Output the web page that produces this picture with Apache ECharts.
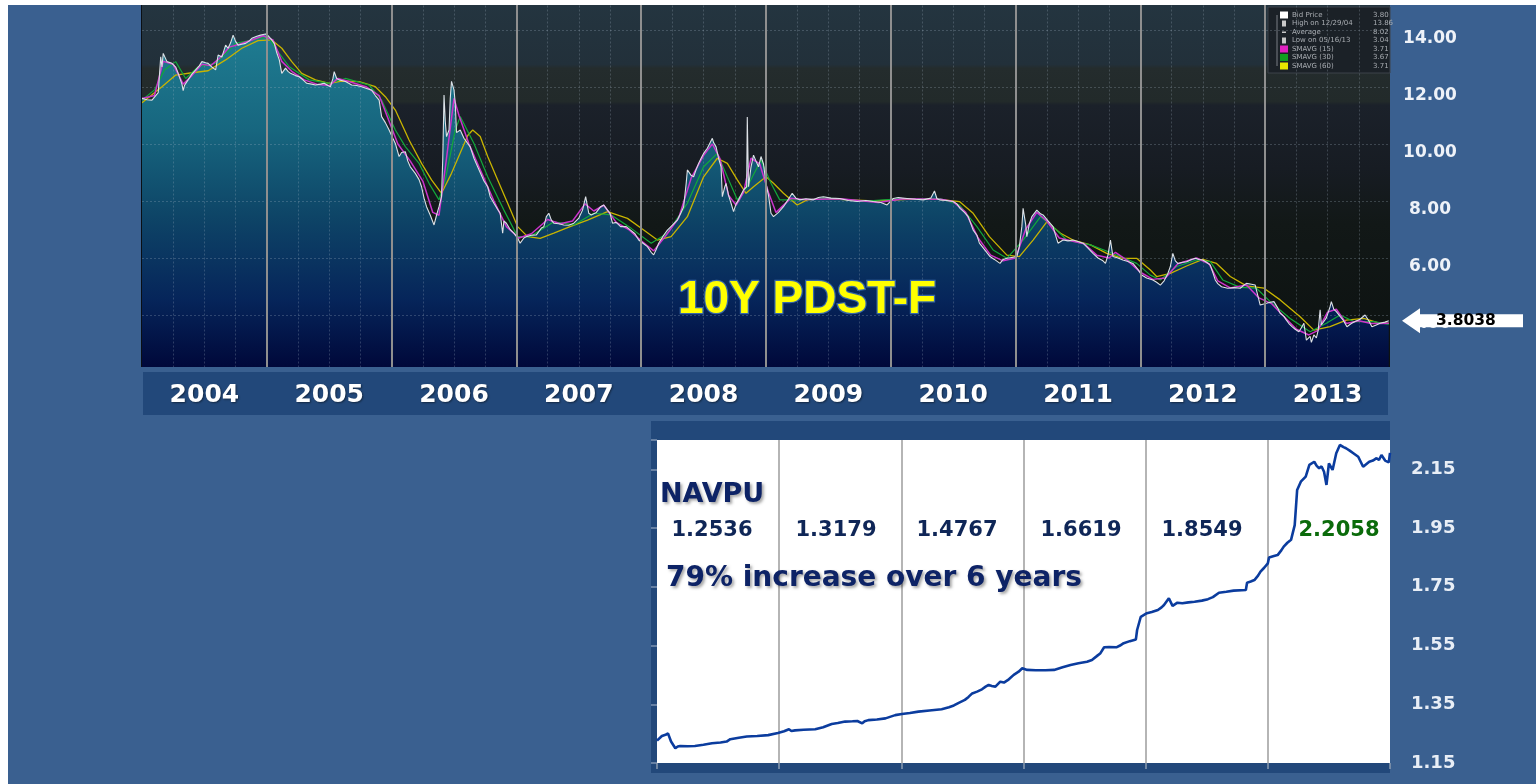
<!DOCTYPE html>
<html>
<head>
<meta charset="utf-8">
<script src="https://cdn.jsdelivr.net/npm/echarts@6/dist/echarts.min.js"></script>
<style>
html,body{margin:0;padding:0;background:#3a6090;}
#c{width:1536px;height:784px;}
</style>
</head>
<body>
<div id="c"></div>
<script>
// ---------- DATA ----------
const yearLabels = ['2004','2005','2006','2007','2008','2009','2010','2011','2012','2013'];

// 10Y PDST-F bid price, [decimal year, yield]
const bidPrice = [
[2004.00,11.60],[2004.04,11.55],[2004.08,11.54],[2004.11,11.70],[2004.13,11.80],[2004.15,13.06],[2004.16,12.70],[2004.17,13.18],[2004.20,12.89],[2004.24,12.83],[2004.27,12.70],[2004.29,12.48],[2004.32,12.10],[2004.33,11.87],[2004.34,12.05],[2004.36,12.19],[2004.40,12.45],[2004.43,12.60],[2004.46,12.75],[2004.48,12.89],[2004.51,12.85],[2004.53,12.83],[2004.56,12.70],[2004.59,12.60],[2004.61,13.12],[2004.64,13.05],[2004.67,13.47],[2004.69,13.36],[2004.71,13.55],[2004.73,13.82],[2004.75,13.60],[2004.77,13.47],[2004.80,13.50],[2004.83,13.53],[2004.86,13.62],[2004.88,13.71],[2004.92,13.78],[2004.95,13.82],[2004.99,13.86],[2005.01,13.80],[2005.04,13.65],[2005.06,13.53],[2005.08,13.20],[2005.10,12.95],[2005.12,12.48],[2005.15,12.66],[2005.17,12.55],[2005.19,12.48],[2005.23,12.40],[2005.26,12.36],[2005.29,12.25],[2005.32,12.13],[2005.36,12.10],[2005.39,12.07],[2005.43,12.10],[2005.46,12.13],[2005.49,12.05],[2005.51,12.01],[2005.53,12.30],[2005.54,12.54],[2005.56,12.30],[2005.58,12.25],[2005.63,12.19],[2005.66,12.12],[2005.68,12.07],[2005.72,12.05],[2005.76,12.01],[2005.80,11.95],[2005.84,11.89],[2005.87,11.70],[2005.90,11.54],[2005.92,10.96],[2005.95,10.75],[2005.98,10.49],[2006.01,10.20],[2006.03,10.02],[2006.06,9.56],[2006.08,9.70],[2006.11,9.73],[2006.13,9.40],[2006.15,9.20],[2006.19,8.97],[2006.22,8.75],[2006.24,8.50],[2006.26,8.10],[2006.28,7.80],[2006.31,7.50],[2006.34,7.16],[2006.36,7.50],[2006.38,7.80],[2006.40,8.15],[2006.41,9.50],[2006.42,11.72],[2006.43,10.80],[2006.44,10.26],[2006.46,10.49],[2006.47,11.60],[2006.48,12.20],[2006.50,11.90],[2006.51,11.43],[2006.52,10.40],[2006.55,10.49],[2006.58,10.20],[2006.63,9.90],[2006.66,9.50],[2006.68,9.30],[2006.71,9.00],[2006.74,8.70],[2006.77,8.50],[2006.79,8.15],[2006.82,7.92],[2006.85,7.70],[2006.87,7.57],[2006.89,6.87],[2006.90,7.30],[2006.92,7.22],[2006.95,7.00],[2006.98,6.87],[2007.01,6.70],[2007.03,6.52],[2007.06,6.70],[2007.08,6.75],[2007.12,6.80],[2007.16,6.81],[2007.20,7.05],[2007.22,7.10],[2007.24,7.45],[2007.26,7.57],[2007.28,7.33],[2007.30,7.22],[2007.34,7.20],[2007.38,7.16],[2007.42,7.15],[2007.46,7.22],[2007.50,7.40],[2007.53,7.68],[2007.555,8.15],[2007.58,7.57],[2007.60,7.51],[2007.64,7.60],[2007.675,7.80],[2007.70,7.86],[2007.73,7.68],[2007.75,7.57],[2007.77,7.22],[2007.80,7.25],[2007.835,7.10],[2007.88,7.10],[2007.915,6.98],[2007.95,6.85],[2007.98,6.63],[2008.02,6.50],[2008.05,6.40],[2008.08,6.20],[2008.10,6.11],[2008.12,6.30],[2008.14,6.52],[2008.18,6.80],[2008.21,6.98],[2008.25,7.15],[2008.29,7.33],[2008.32,7.60],[2008.34,7.80],[2008.36,8.60],[2008.37,9.09],[2008.40,8.90],[2008.42,8.85],[2008.44,9.10],[2008.46,9.32],[2008.48,9.50],[2008.50,9.67],[2008.53,9.85],[2008.54,9.90],[2008.57,10.20],[2008.58,10.05],[2008.60,9.90],[2008.62,9.50],[2008.64,9.20],[2008.65,8.15],[2008.67,8.50],[2008.68,8.62],[2008.70,8.20],[2008.72,7.92],[2008.74,7.63],[2008.76,7.90],[2008.78,8.04],[2008.82,8.39],[2008.845,8.50],[2008.85,10.95],[2008.86,8.50],[2008.88,9.20],[2008.90,9.61],[2008.92,9.40],[2008.94,9.20],[2008.96,9.56],[2008.98,9.30],[2009.00,8.62],[2009.02,8.20],[2009.04,7.57],[2009.06,7.45],[2009.10,7.60],[2009.14,7.80],[2009.17,8.00],[2009.21,8.27],[2009.24,8.10],[2009.27,8.04],[2009.32,8.08],[2009.38,8.04],[2009.42,8.12],[2009.46,8.15],[2009.52,8.10],[2009.59,8.09],[2009.66,8.02],[2009.73,7.98],[2009.80,8.02],[2009.86,7.98],[2009.92,7.95],[2009.97,7.86],[2010.02,8.09],[2010.06,8.12],[2010.13,8.09],[2010.20,8.06],[2010.26,8.04],[2010.32,8.10],[2010.35,8.35],[2010.37,8.08],[2010.39,8.04],[2010.45,8.02],[2010.50,7.98],[2010.53,7.90],[2010.555,7.74],[2010.59,7.60],[2010.62,7.45],[2010.66,6.98],[2010.69,6.80],[2010.71,6.52],[2010.75,6.30],[2010.795,6.05],[2010.83,5.95],[2010.875,5.81],[2010.90,5.95],[2010.93,5.99],[2010.97,6.02],[2011.01,6.05],[2011.03,6.40],[2011.05,7.10],[2011.06,7.74],[2011.08,7.20],[2011.09,6.75],[2011.11,7.20],[2011.13,7.45],[2011.17,7.68],[2011.20,7.55],[2011.22,7.51],[2011.26,7.30],[2011.30,7.10],[2011.32,6.80],[2011.34,6.52],[2011.38,6.63],[2011.42,6.60],[2011.46,6.63],[2011.50,6.58],[2011.54,6.52],[2011.58,6.35],[2011.62,6.16],[2011.66,6.00],[2011.70,5.90],[2011.72,5.81],[2011.74,6.10],[2011.76,6.63],[2011.78,6.05],[2011.82,6.00],[2011.86,5.93],[2011.90,5.88],[2011.94,5.81],[2011.98,5.60],[2012.01,5.40],[2012.05,5.30],[2012.10,5.23],[2012.13,5.15],[2012.16,5.05],[2012.19,5.20],[2012.22,5.46],[2012.24,5.70],[2012.26,6.16],[2012.28,5.90],[2012.30,5.81],[2012.34,5.85],[2012.37,5.87],[2012.41,5.95],[2012.44,5.99],[2012.47,5.95],[2012.50,5.93],[2012.53,5.85],[2012.56,5.75],[2012.58,5.50],[2012.60,5.23],[2012.62,5.10],[2012.65,4.99],[2012.70,4.94],[2012.75,4.96],[2012.80,4.94],[2012.83,5.05],[2012.85,5.11],[2012.89,5.08],[2012.92,5.05],[2012.94,4.70],[2012.96,4.35],[2013.01,4.41],[2013.04,4.45],[2013.07,4.47],[2013.10,4.25],[2013.12,4.06],[2013.15,3.95],[2013.17,3.82],[2013.19,3.70],[2013.215,3.59],[2013.24,3.50],[2013.27,3.41],[2013.29,3.55],[2013.31,3.71],[2013.33,3.12],[2013.36,3.25],[2013.37,3.04],[2013.39,3.30],[2013.41,3.20],[2013.425,3.47],[2013.44,4.18],[2013.45,3.65],[2013.465,3.59],[2013.49,3.90],[2013.52,4.29],[2013.53,4.47],[2013.55,4.20],[2013.57,4.12],[2013.60,3.95],[2013.625,3.82],[2013.655,3.59],[2013.69,3.70],[2013.72,3.77],[2013.76,3.85],[2013.80,4.00],[2013.83,3.80],[2013.855,3.59],[2013.89,3.65],[2013.92,3.71],[2013.96,3.75],[2013.99,3.80]
];

const smavg15 = [
[2004.00,11.60],[2004.10,11.70],[2004.17,12.90],[2004.25,12.80],[2004.33,12.10],[2004.40,12.40],[2004.48,12.80],[2004.55,12.75],[2004.62,13.00],[2004.70,13.40],[2004.78,13.50],[2004.88,13.65],[2004.97,13.80],[2005.05,13.65],[2005.12,12.90],[2005.20,12.55],[2005.30,12.25],[2005.40,12.10],[2005.50,12.05],[2005.57,12.30],[2005.65,12.20],[2005.80,12.00],[2005.90,11.70],[2005.98,10.80],[2006.05,10.00],[2006.15,9.40],[2006.25,8.70],[2006.33,7.60],[2006.38,7.50],[2006.44,9.50],[2006.50,11.60],[2006.54,11.00],[2006.62,10.00],[2006.72,9.00],[2006.82,8.00],[2006.92,7.10],[2007.02,6.70],[2007.12,6.85],[2007.25,7.35],[2007.35,7.20],[2007.45,7.30],[2007.55,7.90],[2007.62,7.65],[2007.70,7.85],[2007.80,7.25],[2007.90,7.00],[2008.00,6.60],[2008.10,6.25],[2008.20,6.80],[2008.30,7.40],[2008.40,8.80],[2008.50,9.60],[2008.57,10.00],[2008.63,9.50],[2008.70,8.20],[2008.76,7.85],[2008.82,8.30],[2008.88,9.50],[2008.95,9.30],[2009.02,8.30],[2009.08,7.60],[2009.20,8.10],[2009.30,8.05],[2009.60,8.08],[2009.90,7.95],[2010.10,8.08],[2010.40,8.06],[2010.50,7.98],[2010.60,7.60],[2010.70,6.70],[2010.80,6.10],[2010.90,5.90],[2011.00,6.00],[2011.08,7.00],[2011.17,7.60],[2011.25,7.30],[2011.35,6.70],[2011.45,6.60],[2011.55,6.50],[2011.65,6.10],[2011.75,6.00],[2011.80,6.20],[2011.90,5.90],[2012.00,5.50],[2012.10,5.25],[2012.20,5.30],[2012.30,5.80],[2012.45,6.00],[2012.55,5.80],[2012.62,5.20],[2012.72,4.95],[2012.85,5.05],[2012.95,4.60],[2013.05,4.40],[2013.15,3.95],[2013.25,3.50],[2013.35,3.30],[2013.42,3.45],[2013.50,4.10],[2013.57,4.20],[2013.65,3.70],[2013.75,3.80],[2013.85,3.70],[2013.92,3.70],[2013.99,3.71]
];

const smavg30 = [
[2004.00,11.54],[2004.10,11.90],[2004.18,12.60],[2004.27,12.89],[2004.35,12.30],[2004.45,12.71],[2004.59,12.83],[2004.75,13.53],[2004.88,13.65],[2005.01,13.77],[2005.10,13.18],[2005.18,12.71],[2005.34,12.25],[2005.50,12.13],[2005.63,12.30],[2005.82,12.07],[2005.92,11.54],[2006.03,10.49],[2006.11,9.91],[2006.22,9.32],[2006.30,8.62],[2006.38,8.04],[2006.43,8.74],[2006.51,10.49],[2006.55,10.96],[2006.66,10.02],[2006.77,8.85],[2006.90,7.68],[2007.01,6.75],[2007.11,6.75],[2007.30,7.27],[2007.46,7.16],[2007.62,7.57],[2007.76,7.51],[2007.92,7.04],[2008.08,6.52],[2008.21,6.87],[2008.37,7.92],[2008.50,9.20],[2008.61,9.67],[2008.69,8.85],[2008.77,8.04],[2008.85,8.50],[2008.96,9.44],[2009.04,8.62],[2009.11,8.04],[2009.25,8.04],[2009.50,8.10],[2009.80,8.00],[2010.10,8.08],[2010.40,8.08],[2010.55,7.86],[2010.69,7.10],[2010.82,6.28],[2010.93,5.99],[2011.06,6.63],[2011.20,7.45],[2011.30,7.10],[2011.41,6.63],[2011.60,6.46],[2011.78,6.16],[2011.97,5.81],[2012.08,5.40],[2012.16,5.23],[2012.29,5.70],[2012.45,5.93],[2012.56,5.87],[2012.66,5.23],[2012.80,4.97],[2012.93,4.94],[2013.04,4.47],[2013.20,3.88],[2013.36,3.41],[2013.49,3.71],[2013.60,4.00],[2013.71,3.77],[2013.87,3.77],[2013.99,3.67]
];

const smavg60 = [
[2004.00,11.45],[2004.16,12.01],[2004.27,12.42],[2004.40,12.50],[2004.53,12.57],[2004.67,12.95],[2004.80,13.36],[2004.93,13.63],[2005.04,13.65],[2005.12,13.36],[2005.20,12.89],[2005.28,12.48],[2005.39,12.25],[2005.50,12.13],[2005.60,12.21],[2005.74,12.19],[2005.87,12.01],[2005.95,11.66],[2006.03,11.19],[2006.14,10.14],[2006.24,9.32],[2006.32,8.74],[2006.40,8.27],[2006.48,8.97],[2006.56,9.79],[2006.61,10.30],[2006.65,10.49],[2006.71,10.26],[2006.77,9.56],[2006.85,8.74],[2006.93,7.92],[2007.01,7.10],[2007.09,6.75],[2007.19,6.69],[2007.30,6.87],[2007.43,7.10],[2007.57,7.33],[2007.73,7.63],[2007.89,7.39],[2008.02,6.98],[2008.13,6.63],[2008.24,6.75],[2008.37,7.45],[2008.50,8.85],[2008.61,9.50],[2008.69,9.32],[2008.77,8.74],[2008.84,8.27],[2008.90,8.50],[2009.00,8.85],[2009.06,8.62],[2009.14,8.27],[2009.25,7.86],[2009.33,8.04],[2009.46,8.09],[2009.59,8.06],[2009.86,8.00],[2010.13,8.06],[2010.39,8.06],[2010.55,7.98],[2010.66,7.57],[2010.79,6.75],[2010.93,6.10],[2011.03,6.05],[2011.14,6.63],[2011.25,7.27],[2011.36,6.87],[2011.46,6.63],[2011.60,6.46],[2011.73,6.16],[2011.86,5.99],[2011.97,5.99],[2012.08,5.58],[2012.13,5.35],[2012.24,5.46],[2012.37,5.72],[2012.50,5.95],[2012.61,5.81],[2012.72,5.35],[2012.85,5.02],[2012.99,4.94],[2013.12,4.53],[2013.28,3.94],[2013.39,3.47],[2013.52,3.59],[2013.65,3.82],[2013.79,3.88],[2013.92,3.71],[2013.99,3.71]
];

// NAVPU, [decimal year, value]
const navpu = [
[2008.00,1.226],[2008.01,1.228],[2008.04,1.242],[2008.07,1.246],[2008.09,1.251],[2008.115,1.223],[2008.15,1.200],[2008.17,1.206],[2008.19,1.208],[2008.25,1.207],[2008.31,1.208],[2008.38,1.212],[2008.45,1.217],[2008.52,1.220],[2008.57,1.223],[2008.60,1.231],[2008.67,1.236],[2008.735,1.240],[2008.82,1.242],[2008.91,1.245],[2008.99,1.252],[2009.04,1.258],[2009.08,1.265],[2009.10,1.259],[2009.13,1.261],[2009.20,1.263],[2009.295,1.265],[2009.36,1.272],[2009.43,1.283],[2009.48,1.286],[2009.54,1.291],[2009.60,1.292],[2009.64,1.293],[2009.68,1.285],[2009.70,1.292],[2009.73,1.296],[2009.80,1.298],[2009.87,1.302],[2009.95,1.313],[2010.005,1.317],[2010.07,1.320],[2010.14,1.325],[2010.23,1.329],[2010.33,1.333],[2010.39,1.340],[2010.43,1.346],[2010.47,1.355],[2010.52,1.365],[2010.55,1.375],[2010.58,1.387],[2010.62,1.393],[2010.66,1.401],[2010.69,1.410],[2010.715,1.416],[2010.74,1.412],[2010.77,1.410],[2010.81,1.427],[2010.84,1.424],[2010.88,1.435],[2010.92,1.450],[2010.96,1.461],[2010.99,1.4725],[2011.03,1.467],[2011.10,1.466],[2011.18,1.466],[2011.25,1.467],[2011.32,1.476],[2011.385,1.484],[2011.45,1.490],[2011.52,1.495],[2011.56,1.501],[2011.60,1.514],[2011.63,1.524],[2011.66,1.544],[2011.70,1.545],[2011.76,1.544],[2011.79,1.550],[2011.82,1.558],[2011.87,1.565],[2011.92,1.571],[2011.93,1.603],[2011.96,1.648],[2012.01,1.660],[2012.05,1.664],[2012.10,1.671],[2012.13,1.680],[2012.15,1.688],[2012.19,1.711],[2012.22,1.685],[2012.26,1.696],[2012.30,1.694],[2012.35,1.697],[2012.40,1.699],[2012.46,1.703],[2012.51,1.708],[2012.55,1.715],[2012.60,1.730],[2012.66,1.733],[2012.72,1.737],[2012.82,1.739],[2012.83,1.764],[2012.86,1.768],[2012.89,1.773],[2012.92,1.788],[2012.94,1.802],[2012.97,1.815],[2013.00,1.830],[2013.01,1.850],[2013.05,1.855],[2013.08,1.858],[2013.11,1.874],[2013.13,1.887],[2013.16,1.900],[2013.19,1.910],[2013.22,1.960],[2013.24,2.080],[2013.27,2.108],[2013.31,2.125],[2013.34,2.165],[2013.38,2.176],[2013.40,2.162],[2013.42,2.154],[2013.44,2.160],[2013.46,2.142],[2013.48,2.097],[2013.50,2.170],[2013.53,2.148],[2013.56,2.205],[2013.59,2.233],[2013.62,2.226],[2013.64,2.222],[2013.67,2.214],[2013.70,2.205],[2013.74,2.193],[2013.78,2.159],[2013.83,2.176],[2013.86,2.180],[2013.89,2.188],[2013.91,2.182],[2013.93,2.199],[2013.96,2.180],[2013.99,2.174],[2014.00,2.206]
];

const navYearLabels = ['1.2536','1.3179','1.4767','1.6619','1.8549','2.2058'];
const lastBid = '3.8038';
const legendNames = ['Bid Price','High on 12/29/04','Average','Low on 05/16/13','SMAVG (15)','SMAVG (30)','SMAVG (60)'];
const legendValues = ['3.80','13.86','8.02','3.04','3.71','3.67','3.71'];

// ---------- CHART ----------
const chart = echarts.init(document.getElementById('c'), null, {renderer:'canvas'});
const FONT = 'DejaVu Sans';
const dotted = {color:'rgba(170,185,200,0.26)', type:[2,2], width:1};

const option = {
  backgroundColor:'#3a6090',
  animation:false,
  grid:[
    {left:142, top:1.5, width:1248, height:370.5, show:true, borderWidth:0,
     backgroundColor:{type:'linear',x:0,y:0,x2:0,y2:1,colorStops:[
       {offset:0,color:'#243540'},{offset:0.17,color:'#22303a'},{offset:0.18,color:'#242c2d'},
       {offset:0.27,color:'#222a2a'},{offset:0.28,color:'#1b212a'},{offset:0.45,color:'#171c23'},
       {offset:0.6,color:'#121817'},{offset:1,color:'#0c1110'}]}},
    {left:657, top:440, width:733, height:323, show:true, borderWidth:0, backgroundColor:'#ffffff'}
  ],
  xAxis:[
    {gridIndex:0, type:'value', position:'top', min:2004, max:2014, interval:0.25, z:2,
     axisLine:{show:false}, axisTick:{show:false}, axisLabel:{show:false},
     splitLine:{show:true, showMinLine:false, showMaxLine:false, lineStyle:dotted}},
    {gridIndex:0, type:'value', position:'top', min:2004, max:2014, interval:1, z:4,
     axisLine:{show:false}, axisTick:{show:false}, axisLabel:{show:false},
     splitLine:{show:true, showMinLine:false, showMaxLine:false, lineStyle:{color:'#8f8f8f', width:2}}},
    {gridIndex:0, type:'category', position:'bottom', data:yearLabels, boundaryGap:true,
     axisLine:{show:false}, axisTick:{show:false}, splitLine:{show:false},
     axisLabel:{margin:11, color:'#ffffff', fontSize:25, fontWeight:'bold', fontFamily:FONT,
       textShadowColor:'rgba(0,0,0,0.45)', textShadowBlur:2, textShadowOffsetX:1, textShadowOffsetY:1}},
    {gridIndex:1, type:'value', position:'bottom', min:2008, max:2014, interval:1,
     axisLine:{show:false}, axisLabel:{show:false},
     axisTick:{show:true, length:6, lineStyle:{color:'#8a9ab0', width:1.5}},
     splitLine:{show:true, showMinLine:false, showMaxLine:false, lineStyle:{color:'#9c9c9c', width:1.5}}}
  ],
  yAxis:[
    {gridIndex:0, type:'value', position:'right', min:2, max:15, interval:2, z:2,
     axisLine:{show:false}, axisTick:{show:false},
     splitLine:{show:true, showMinLine:false, showMaxLine:false, lineStyle:dotted},
     axisLabel:{showMinLabel:false, showMaxLabel:false, align:'center', verticalAlign:'top', margin:40,
       color:'#eef2f8', fontSize:17, fontWeight:'bold', fontFamily:FONT, formatter:v=>v.toFixed(2)}},
    {gridIndex:1, type:'value', position:'right', min:1.15, max:2.25, interval:0.2,
     axisLine:{show:false}, axisTick:{show:false}, splitLine:{show:false},
     axisLabel:{showMaxLabel:false, margin:21, color:'#e8eef6', fontSize:18, fontWeight:'bold', fontFamily:FONT,
       formatter:v=>v.toFixed(2)}},
    {gridIndex:1, type:'value', position:'left', min:1.15, max:2.25, interval:0.2,
     axisLine:{show:false}, axisLabel:{show:false}, splitLine:{show:false},
     axisTick:{show:true, length:6, lineStyle:{color:'#7f94b3', width:1.5}}}
  ],
  series:[
    {name:'Bid Price area', type:'line', xAxisIndex:0, yAxisIndex:0, data:bidPrice, symbol:'none', silent:true, z:1,
     lineStyle:{width:0},
     areaStyle:{opacity:1, color:{type:'linear',x:0,y:30,x2:0,y2:367,global:true,colorStops:[
       {offset:0,color:'#1f7d92'},{offset:0.3,color:'#17667f'},{offset:0.55,color:'#0e4567'},
       {offset:0.8,color:'#06255a'},{offset:1,color:'#00083a'}]}}},
    {name:'SMAVG (60)', type:'line', xAxisIndex:0, yAxisIndex:0, data:smavg60, symbol:'none', z:2,
     lineStyle:{color:'#c8b400', width:1.3}},
    {name:'SMAVG (30)', type:'line', xAxisIndex:0, yAxisIndex:0, data:smavg30, symbol:'none', z:2,
     lineStyle:{color:'#12a83a', width:1.2}},
    {name:'SMAVG (15)', type:'line', xAxisIndex:0, yAxisIndex:0, data:smavg15, symbol:'none', z:2,
     lineStyle:{color:'#cc33cc', width:1.5}},
    {name:'Bid Price', type:'line', xAxisIndex:0, yAxisIndex:0, data:bidPrice, symbol:'none', z:3,
     lineStyle:{color:'#dde1e6', width:1.1}},
    {name:'NAVPU', type:'line', xAxisIndex:3, yAxisIndex:1, data:navpu, symbol:'none', z:3,
     lineStyle:{color:'#0b3c9e', width:2.6}}
  ]
};
chart.setOption(option);

// ---------- ANNOTATIONS ----------
const lastVal = bidPrice[bidPrice.length-1][1];
const ay = chart.convertToPixel({yAxisIndex:0}, lastVal);

const legendSwatch = ['#ffffff', null, null, null, '#e020c0', '#10a020', '#e8e800'];
const legendEls = [{type:'rect', shape:{x:0,y:0,width:122,height:66}, style:{fill:'#1b2127', stroke:'#3c434a', lineWidth:1}}];
legendEls.push({type:'line', shape:{x1:9,y1:8,x2:9,y2:59}, style:{stroke:'#7a7f85', lineWidth:1}});
legendNames.forEach((n,i)=>{
  const cy = 8 + i*8.5;
  if (legendSwatch[i]) {
    legendEls.push({type:'rect', shape:{x:12,y:cy-3.5,width:8,height:7}, style:{fill:legendSwatch[i]}});
  } else {
    legendEls.push({type:'rect', shape:{x:14,y:cy-(i===2?0.5:3),width:4,height:(i===2?1.5:6)}, style:{fill:'#c8c8c8'}});
  }
  legendEls.push({type:'text', style:{text:n, x:24, y:cy, fill:'#a9adb2', font:'7px "DejaVu Sans"', align:'left', verticalAlign:'middle'}});
  legendEls.push({type:'text', style:{text:legendValues[i], x:105, y:cy, fill:'#a9adb2', font:'7px "DejaVu Sans"', align:'left', verticalAlign:'middle'}});
});

const navCenters = [712, 836, 957, 1081, 1202, 1339];
const navTextEls = navYearLabels.map((t,i)=>({
  type:'text', z:50,
  style:{text:t, x:navCenters[i], y:531, fill:(i===5?'#0b6b0b':'#0f2657'), font:'bold 21px "DejaVu Sans"', align:'center', verticalAlign:'middle'}
}));

const shadowText = {textShadowColor:'rgba(0,0,0,0.35)', textShadowBlur:3, textShadowOffsetX:2, textShadowOffsetY:2};

chart.setOption({
  graphic:[
    {type:'rect', z:-5, shape:{x:651,y:421,width:739,height:19}, style:{fill:'#22487a'}},
    {type:'rect', z:-5, shape:{x:651,y:440,width:6,height:333}, style:{fill:'#22487a'}},
    {type:'rect', z:-5, shape:{x:651,y:763,width:739,height:10}, style:{fill:'#22487a'}},
    {type:'rect', z:-5, shape:{x:143,y:372,width:1245,height:43}, style:{fill:'#22487a'}},
    {type:'rect', z:100, shape:{x:130,y:367,width:1270,height:5}, style:{fill:'#3a6090'}},
    {type:'rect', z:100, shape:{x:0,y:0,width:1536,height:5}, style:{fill:'#ffffff'}},
    {type:'rect', z:100, shape:{x:0,y:0,width:8,height:784}, style:{fill:'#ffffff'}},
    {type:'line', z:100, shape:{x1:141.5,y1:5,x2:141.5,y2:367}, style:{stroke:'#0a0f14', lineWidth:1}},
    {type:'group', x:1268, y:7, z:60, children:legendEls},
    {type:'text', z:60, style:{text:'10Y PDST-F', x:807, y:300, fill:'#ffff00', stroke:'#3566a8', lineWidth:2.5,
      font:'bold 46px "Liberation Sans"', align:'center', verticalAlign:'middle'}},
    {type:'polygon', z:80, shape:{points:[[1402,ay],[1420,ay-12.5],[1420,ay-6.5],[1523,ay-6.5],[1523,ay+6.5],[1420,ay+6.5],[1420,ay+12.5]]},
      style:{fill:'#ffffff'}},
    {type:'text', z:81, style:{text:lastBid, x:1436, y:ay+0.5, fill:'#000000', font:'bold 15.5px "DejaVu Sans"', align:'left', verticalAlign:'middle'}},
    {type:'text', z:50, style:Object.assign({text:'NAVPU', x:660, y:495, fill:'#0d2366', font:'bold 27px "DejaVu Sans"', align:'left', verticalAlign:'middle'}, shadowText)},
    {type:'text', z:50, style:Object.assign({text:'79% increase over 6 years', x:666, y:579, fill:'#0d2366', font:'bold 28px "DejaVu Sans"', align:'left', verticalAlign:'middle'}, shadowText)}
  ].concat(navTextEls)
});
</script>
</body>
</html>
